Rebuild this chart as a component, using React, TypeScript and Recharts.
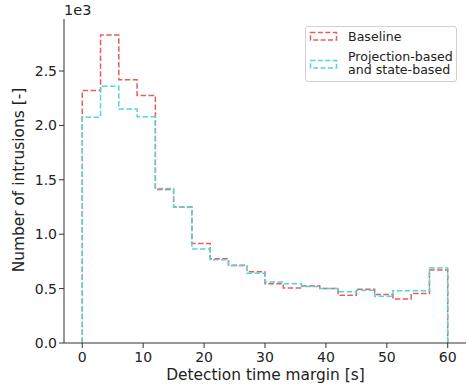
import React from "react";
import {
  LineChart,
  Line,
  XAxis,
  YAxis,
} from "recharts";

// bin edges of the histogram (seconds)
const binEdges = [0, 3, 6, 9, 12, 15, 18, 21, 24, 27, 30, 33, 36, 39, 42, 45, 48, 51, 54, 57, 60];

// counts per bin
const baselineCounts = [2320, 2830, 2420, 2275, 1410, 1250, 915, 775, 715, 655, 545, 505, 525, 500, 440, 495, 445, 405, 455, 670];
const projectionCounts = [2075, 2360, 2150, 2080, 1420, 1250, 865, 765, 710, 640, 560, 545, 520, 500, 470, 485, 430, 480, 480, 690];

const xTicks = [0, 10, 20, 30, 40, 50, 60];
const yTicks = [0, 500, 1000, 1500, 2000, 2500];

const seriesNames = ["Baseline", "Projection-based\nand state-based"];

const RED = "#e1605e";
const CYAN = "#53d5de";
const FONT = "'DejaVu Sans', sans-serif";

// step outline like matplotlib histtype="step"
function buildSteps() {
  const rows: { x: number; b: number; p: number }[] = [{ x: binEdges[0], b: 0, p: 0 }];
  for (let i = 0; i < baselineCounts.length; i++) {
    rows.push({ x: binEdges[i], b: baselineCounts[i], p: projectionCounts[i] });
    rows.push({ x: binEdges[i + 1], b: baselineCounts[i], p: projectionCounts[i] });
  }
  rows.push({ x: binEdges[binEdges.length - 1], b: 0, p: 0 });
  return rows;
}

const data = buildSteps();

function Patch({ color, top }: { color: string; top: number }) {
  return (
    <svg width={30} height={11} style={{ position: "absolute", left: 3, top }}>
      <rect
        x={1.5}
        y={1.5}
        width={26}
        height={7.5}
        fill="none"
        stroke={color}
        strokeWidth={1.5}
        strokeDasharray="5 2.4"
      />
    </svg>
  );
}

function LegendBox() {
  const textStyle: React.CSSProperties = {
    position: "absolute",
    left: 42,
    whiteSpace: "nowrap",
    lineHeight: "14px",
  };
  const second = seriesNames[1].split("\n");
  return (
    <div
      style={{
        position: "absolute",
        left: 305,
        top: 26,
        width: 152,
        height: 56,
        boxSizing: "border-box",
        border: "1px solid #d0d0d0",
        borderRadius: 3,
        background: "#fff",
        fontFamily: FONT,
        fontSize: 12.6,
        color: "#222",
      }}
    >
      <Patch color={RED} top={4} />
      <div style={{ ...textStyle, top: 2.5 }}>{seriesNames[0]}</div>
      <Patch color={CYAN} top={32} />
      <div style={{ ...textStyle, top: 22.5 }}>{second[0]}</div>
      <div style={{ ...textStyle, top: 36.3 }}>{second[1]}</div>
    </div>
  );
}

export default function App() {
  const tickStyle = { fill: "#222", fontSize: 14, fontFamily: FONT };
  return (
    <div style={{ position: "absolute", left: 0, top: 0, width: 468, height: 388, background: "#fff" }}>
      <LineChart width={468} height={388} data={data} margin={{ top: 19, right: 2, bottom: 0, left: 0 }}>
        <XAxis
          dataKey="x"
          type="number"
          domain={[-3, 63]}
          ticks={xTicks}
          allowDataOverflow
          height={45}
          tickSize={5}
          tickMargin={4}
          stroke="#333"
          tick={tickStyle}
        />
        <XAxis xAxisId="top" orientation="top" dataKey="x" type="number" domain={[-3, 63]} height={0} tick={false} tickLine={false} stroke="#333" />
        <YAxis
          type="number"
          domain={[0, 2978]}
          ticks={yTicks}
          allowDataOverflow
          width={64}
          tickSize={5}
          tickMargin={2}
          stroke="#333"
          tick={tickStyle}
          tickFormatter={(v: number) => (v / 1000).toFixed(1)}
        />
        <YAxis yAxisId="right" orientation="right" domain={[0, 2978]} width={0} tick={false} tickLine={false} stroke="#333" />
        <Line
          name={seriesNames[0]}
          type="linear"
          dataKey="b"
          stroke={RED}
          strokeWidth={1.5}
          strokeDasharray="5.5 2.4"
          dot={false}
          isAnimationActive={false}
        />
        <Line
          name={seriesNames[1]}
          type="linear"
          dataKey="p"
          stroke={CYAN}
          strokeWidth={1.5}
          strokeDasharray="5.5 2.4"
          dot={false}
          isAnimationActive={false}
        />
      </LineChart>
      <LegendBox />
      <div style={{ position: "absolute", left: 64, top: 2, fontFamily: FONT, fontSize: 14.5, color: "#222" }}>1e3</div>
      <div
        style={{
          position: "absolute",
          left: 265.5,
          top: 375,
          transform: "translate(-50%, -50%)",
          whiteSpace: "nowrap",
          fontFamily: FONT,
          fontSize: 15.4,
          color: "#222",
        }}
      >
        Detection time margin [s]
      </div>
      <div
        style={{
          position: "absolute",
          left: 19,
          top: 180,
          transform: "translate(-50%, -50%) rotate(-90deg)",
          whiteSpace: "nowrap",
          fontFamily: FONT,
          fontSize: 15.4,
          color: "#222",
        }}
      >
        Number of intrusions [-]
      </div>
    </div>
  );
}
